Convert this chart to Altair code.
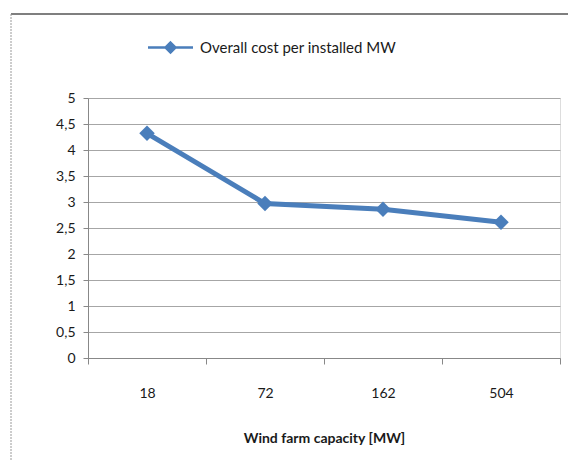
import altair as alt
import pandas as pd

capacity = ["18", "72", "162", "504"]
cost = [4.32, 2.97, 2.86, 2.61]
series_name = "Overall cost per installed MW"

df = pd.DataFrame({"capacity": capacity, "cost": cost, "series": [series_name] * len(cost)})

BLUE = "#4A7EBB"
FONT = "Lato"
TEXT = "#1a1a1a"

base = alt.Chart(df)

x = alt.X(
    "capacity:N",
    sort=capacity,
    scale=alt.Scale(paddingInner=0, paddingOuter=0),
    axis=alt.Axis(
        title="Wind farm capacity [MW]",
        labelAngle=0,
        tickBand="extent",
        tickSize=6,
        tickColor="#888888",
        domainColor="#888888",
        labelPadding=22,
        titlePadding=31,
        labelFontSize=14,
        titleFontSize=14,
        titleFontWeight="bold",
        labelColor=TEXT,
        titleColor=TEXT,
        grid=False,
    ),
)

y = alt.Y(
    "cost:Q",
    scale=alt.Scale(domain=[0, 5]),
    axis=alt.Axis(
        title=None,
        values=[0, 0.5, 1, 1.5, 2, 2.5, 3, 3.5, 4, 4.5, 5],
        labelExpr="replace(format(datum.value, '~g'), '.', ',')",
        tickSize=5,
        tickColor="#888888",
        domainColor="#888888",
        gridColor="#a6a6a6",
        gridWidth=1,
        labelPadding=8,
        labelFontSize=14,
        labelColor=TEXT,
    ),
)

color = alt.Color(
    "series:N",
    scale=alt.Scale(domain=[series_name], range=[BLUE]),
    legend=alt.Legend(
        title=None,
        orient="none",
        legendX=72,
        legendY=-61,
        symbolType="M-2.5,0L2.5,0M0,-0.55L0.55,0L0,0.55L-0.55,0Z",
        symbolSize=324,
        symbolStrokeWidth=2.5,
        symbolFillColor=BLUE,
        symbolStrokeColor=BLUE,
        labelOffset=19,
        labelFontSize=15,
        labelLimit=0,
        labelColor=TEXT,
    ),
)

line = base.mark_line(strokeWidth=5).encode(x=x, y=y, color=color)
points = base.mark_point(shape="diamond", filled=True, size=240, opacity=1).encode(
    x=x, y=y, color=alt.Color("series:N", scale=alt.Scale(domain=[series_name], range=[BLUE]), legend=None)
)

frame_top = alt.Chart(pd.DataFrame({"a": [0]})).mark_rule(color="#7f7f7f", strokeWidth=2).encode(
    x=alt.value(-77), x2=alt.value(480), y=alt.value(-84)
)
frame_left = alt.Chart(pd.DataFrame({"a": [0]})).mark_rule(
    color="#9a9a9a", strokeWidth=1, strokeDash=[2, 1]
).encode(x=alt.value(-77), y=alt.value(-84), y2=alt.value(362))

chart = (
    alt.layer(frame_top, frame_left, line, points)
    .properties(width=472, height=260, padding={"left": 2, "top": 5, "right": 0, "bottom": 0})
    .configure_view(stroke=None)
    .configure(font=FONT)
)

chart.save("out.html", embed_options={"renderer": "svg", "actions": False})
